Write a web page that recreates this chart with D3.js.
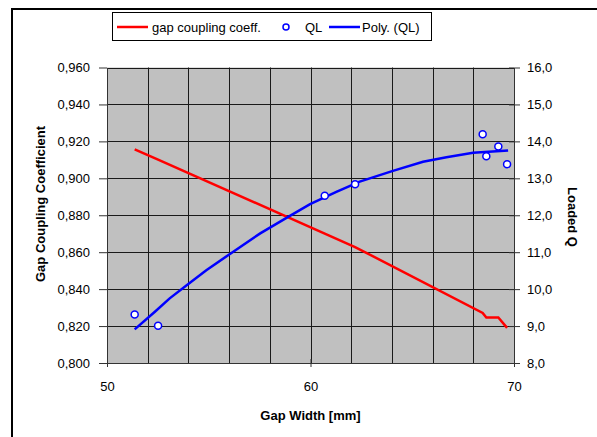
<!DOCTYPE html>
<html>
<head>
<meta charset="utf-8">
<script src="https://cdn.jsdelivr.net/npm/d3@7"></script>
<style>
  body { margin: 0; background: #fff; }
  text { font-family: "Liberation Sans", Arial, sans-serif; }
</style>
</head>
<body>
<script>
// measured data
var gapWidth = [51.36, 52.51, 60.70, 62.19, 68.46, 68.64, 69.23, 69.66];
var coupling = [0.9157, 0.9101, 0.8701, 0.8628, 0.8271, 0.8246, 0.8246, 0.8190];
var loadedQ = [9.31, 9.01, 12.53, 12.84, 14.19, 13.60, 13.86, 13.38];
// trendline (poly)
var polyX = [51.36, 52.34, 53.08, 53.98, 54.88, 56.06, 57.53, 58.82, 59.98, 61.27, 62.42, 64.05, 65.53, 66.68, 67.99, 69.71];
var polyQ = [8.91, 9.38, 9.75, 10.13, 10.51, 10.96, 11.51, 11.93, 12.30, 12.63, 12.91, 13.20, 13.45, 13.57, 13.69, 13.75];
var leftTicks = [0.80, 0.82, 0.84, 0.86, 0.88, 0.90, 0.92, 0.94, 0.96];
var rightTicks = [8, 9, 10, 11, 12, 13, 14, 15, 16];
var xTicks = [50, 60, 70];

var width = 597, height = 437;
var pLeft = 107, pRight = 514, pTop = 67.5, pBottom = 363;

var loc = d3.formatLocale({decimal: ",", thousands: ".", grouping: [3], currency: ["", ""]});

var svg = d3.select("body").append("svg")
    .attr("width", width)
    .attr("height", height);

// chart border (runs off the right/bottom edge)
svg.append("rect")
    .attr("x", 12).attr("y", 9)
    .attr("width", 700).attr("height", 600)
    .attr("fill", "#fff")
    .attr("stroke", "#000")
    .attr("stroke-width", 2);

var x = d3.scaleLinear().domain([50, 70]).range([pLeft, pRight]);
var yL = d3.scaleLinear().domain([0.8, 0.96]).range([pBottom, pTop]);
var yR = d3.scaleLinear().domain([8, 16]).range([pBottom, pTop]);

svg.append("rect")
    .attr("x", pLeft).attr("y", pTop)
    .attr("width", pRight - pLeft).attr("height", pBottom - pTop)
    .attr("fill", "#c0c0c0");

// grid
svg.append("g").selectAll("line")
    .data(d3.range(52, 70, 2))
    .enter().append("line")
    .attr("x1", function(d) { return Math.round(x(d)) + 0.5; })
    .attr("x2", function(d) { return Math.round(x(d)) + 0.5; })
    .attr("y1", pTop).attr("y2", pBottom)
    .attr("stroke", "#1a1a1a");
svg.append("g").selectAll("line")
    .data(leftTicks.slice(1))
    .enter().append("line")
    .attr("y1", function(d) { return Math.round(yL(d)) + 0.5; })
    .attr("y2", function(d) { return Math.round(yL(d)) + 0.5; })
    .attr("x1", pLeft).attr("x2", pRight)
    .attr("stroke", "#1a1a1a");

function styleAxis(g) {
  g.selectAll("path").attr("stroke", "#333");
  g.selectAll("line").attr("stroke", "#333");
  g.selectAll("text").attr("font-size", 13).attr("fill", "#000")
    .style("font-family", "'Liberation Sans', Arial, sans-serif");
}

svg.append("g")
    .attr("transform", "translate(" + pLeft + ",0)")
    .call(d3.axisLeft(yL).tickValues(leftTicks).tickSize(8).tickSizeOuter(0).tickPadding(9)
      .tickFormat(loc.format(".3f")))
    .call(styleAxis);

svg.append("g")
    .attr("transform", "translate(" + pRight + ",0)")
    .call(d3.axisRight(yR).tickValues(rightTicks).tickSize(6).tickSizeOuter(0).tickPadding(7)
      .tickFormat(loc.format(".1f")))
    .call(styleAxis)
    .call(function(g) {
      g.selectAll(".tick line").attr("x1", -5);
    });

svg.append("g")
    .attr("transform", "translate(0," + pBottom + ")")
    .call(d3.axisBottom(x).tickValues(xTicks).tickSize(4).tickSizeOuter(0).tickPadding(15))
    .call(styleAxis)
    .call(function(g) {
      g.selectAll(".tick line").attr("y1", -4);
    });

// axis titles
svg.append("text")
    .attr("transform", "translate(45,204) rotate(-90)")
    .attr("text-anchor", "middle")
    .attr("font-size", 13).attr("font-weight", "bold")
    .text("Gap Coupling Coefficient");
svg.append("text")
    .attr("transform", "translate(568,217) rotate(90)")
    .attr("text-anchor", "middle")
    .attr("font-size", 13).attr("font-weight", "bold")
    .text("Loaded Q");
svg.append("text")
    .attr("x", (pLeft + pRight) / 2).attr("y", 420)
    .attr("text-anchor", "middle")
    .attr("font-size", 13).attr("font-weight", "bold")
    .text("Gap Width [mm]");

// series
var redLine = d3.line()
    .x(function(d, i) { return x(gapWidth[i]); })
    .y(function(d) { return yL(d); });
svg.append("path")
    .datum(coupling)
    .attr("d", redLine)
    .attr("fill", "none")
    .attr("stroke", "#ff0000")
    .attr("stroke-width", 2.5);

var blueLine = d3.line()
    .x(function(d, i) { return x(polyX[i]); })
    .y(function(d) { return yR(d); });
svg.append("path")
    .datum(polyQ)
    .attr("d", blueLine)
    .attr("fill", "none")
    .attr("stroke", "#0000ff")
    .attr("stroke-width", 2.5);

svg.append("g").selectAll("circle")
    .data(loadedQ)
    .enter().append("circle")
    .attr("cx", function(d, i) { return x(gapWidth[i]); })
    .attr("cy", function(d) { return yR(d); })
    .attr("r", 3.5)
    .attr("fill", "#fff")
    .attr("stroke", "#0000ff")
    .attr("stroke-width", 1.5);

// legend
var lg = svg.append("g");
lg.append("rect")
    .attr("x", 112.5).attr("y", 12.5)
    .attr("width", 319).attr("height", 28)
    .attr("fill", "#fff").attr("stroke", "#000");
lg.append("line").attr("x1", 117).attr("x2", 148).attr("y1", 27).attr("y2", 27)
    .attr("stroke", "#ff0000").attr("stroke-width", 2.5);
lg.append("text").attr("x", 152).attr("y", 31.5).attr("font-size", 13).text("gap coupling coeff.");
lg.append("circle").attr("cx", 286).attr("cy", 27).attr("r", 3)
    .attr("fill", "#fff").attr("stroke", "#0000ff").attr("stroke-width", 1.5);
lg.append("text").attr("x", 305).attr("y", 31.5).attr("font-size", 13).text("QL");
lg.append("line").attr("x1", 329).attr("x2", 360).attr("y1", 27).attr("y2", 27)
    .attr("stroke", "#0000ff").attr("stroke-width", 2.5);
lg.append("text").attr("x", 362).attr("y", 31.5).attr("font-size", 13).text("Poly. (QL)");
</script>
</body>
</html>
